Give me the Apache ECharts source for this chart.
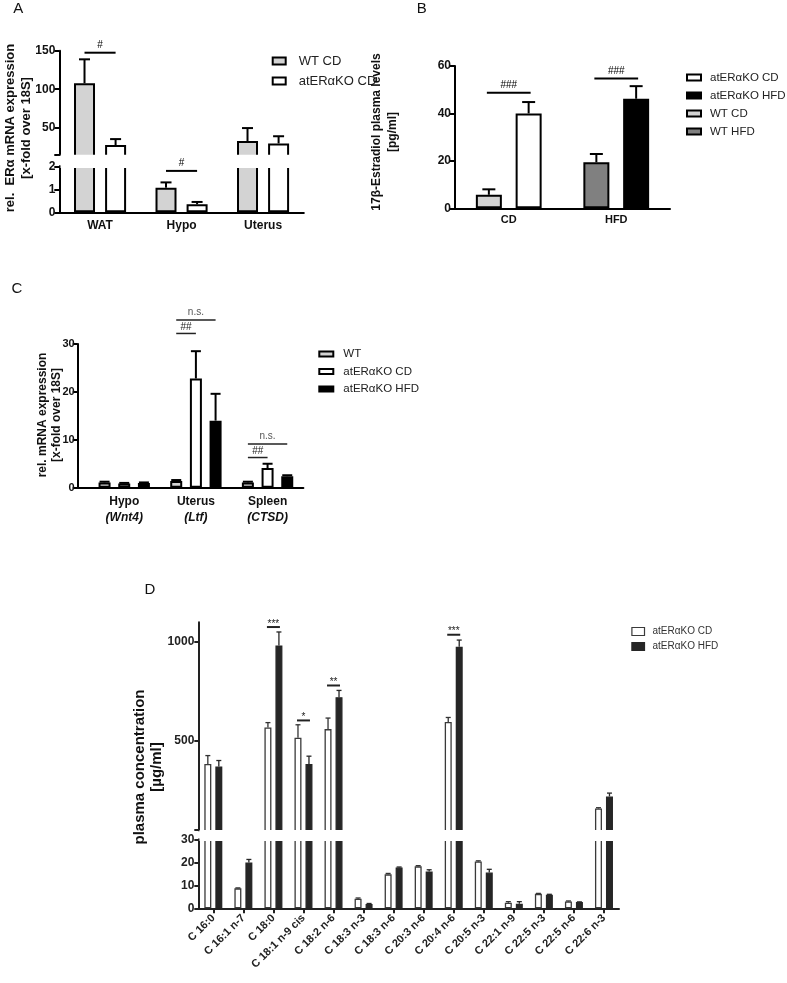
<!DOCTYPE html>
<html>
<head>
<meta charset="utf-8">
<title>Figure</title>
<script src="https://cdn.jsdelivr.net/npm/echarts@6.0.0/dist/echarts.min.js"></script>
<style>
html,body{margin:0;padding:0;background:#ffffff;}
#chart{width:787px;height:983px;}
</style>
</head>
<body>
<div id="chart"></div>
<script>
// ---------------- Panel A ----------------
const aCategories = ['WAT', 'Hypo', 'Uterus'];
const aWT = [107.7, 1.07, 32.7];
const aWTSem = [31.1, 0.23, 16.9];
const aKO = [27.5, 0.35, 29.7];
const aKOSem = [7.8, 0.1, 9.3];
const aUpperLabels = [50, 100, 150];
const aSig = [
  {part: 'upper', cat: 0, from: 0, to: 1, y: 147.4, text: '#'},
  {part: 'lower', cat: 1, from: 0, to: 1, y: 1.8, text: '#'}
];
// ---------------- Panel B ----------------
const bCategories = ['CD', 'HFD'];
const bWT = [5.7, 19.4];
const bWTSem = [2.3, 3.5];
const bKO = [40.0, 46.2];
const bKOSem = [4.8, 5.3];
const bSig = [
  {cat: 0, from: 0, to: 1, y: 48.7, text: '###'},
  {cat: 1, from: 0, to: 1, y: 54.7, text: '###'}
];
// ---------------- Panel C ----------------
const cCategories = ['Hypo', 'Uterus', 'Spleen'];
const cGenes = ['Wnt4', 'Ltf', 'CTSD'];
const cWT = [1.1, 1.4, 1.1];
const cWTSem = [0.15, 0.2, 0.15];
const cKOCD = [0.9, 22.8, 4.1];
const cKOCDSem = [0.1, 5.7, 0.9];
const cKOHFD = [1.0, 14.0, 2.4];
const cKOHFDSem = [0.1, 5.6, 0.2];
const cSig = [
  {cat: 1, from: 0, to: 2, y: 35.0, text: 'n.s.'},
  {cat: 1, from: 0, to: 1, y: 32.2, text: '##'},
  {cat: 2, from: 0, to: 2, y: 9.1, text: 'n.s.'},
  {cat: 2, from: 0, to: 1, y: 6.3, text: '##'}
];
// ---------------- Panel D ----------------
const dCategories = ['C 16:0', 'C 16:1 n-7', 'C 18:0', 'C 18:1 n-9 cis', 'C 18:2 n-6', 'C 18:3 n-3', 'C 18:3 n-6',
  'C 20:3 n-6', 'C 20:4 n-6', 'C 20:5 n-3', 'C 22:1 n-9', 'C 22:5 n-3', 'C 22:5 n-6', 'C 22:6 n-3'];
const dCD = [382, 8.7, 567, 515, 559, 4.2, 14.8, 18.3, 595, 20.4, 2.4, 6.3, 3.0, 157];
const dCDSem = [43, 0.2, 25, 66, 56, 0.3, 0.4, 0.3, 23, 0.3, 0.5, 0.2, 0.2, 4];
const dHFD = [370, 20.0, 983, 382, 721, 1.9, 17.8, 16.0, 976, 15.6, 2.0, 5.9, 2.7, 218];
const dHFDSem = [30, 1.3, 68, 40, 34, 0.2, 0.2, 0.8, 34, 1.4, 0.9, 0.2, 0.1, 17];
const dUpperLabels = [500, 1000];
const dSig = [
  {part: 'upper', cat: 2, from: 0, to: 1, y: 1076, text: '***'},
  {part: 'upper', cat: 3, from: 0, to: 1, y: 603, text: '*'},
  {part: 'upper', cat: 4, from: 0, to: 1, y: 780, text: '**'},
  {part: 'upper', cat: 8, from: 0, to: 1, y: 1037, text: '***'}
];

// ---------------- Layout / style ----------------
const FONT = '"Liberation Sans", Arial, Helvetica, sans-serif';
const LG = '#d3d3d3';
const L = {
  A: {left: 59.3, width: 244.5, upTop: 50.7, upH: 115.6, lowTop: 166.3, lowH: 46, upVisMin: 15, lowMax: 2, upMax: 150,
      bw: 21, gap: 0.48, cap: 11, lw: 2},
  B: {left: 455, width: 215, top: 66, h: 142.3, bw: 26, gap: 0.53, cap: 13, lw: 2},
  C: {frameLeft: 77.7, left: 88.4, width: 215, top: 344, h: 143.7, bw: 12, gap: 0.64, cap: 10, lw: 2},
  D: {left: 198.3, width: 420.7, upTop: 622.3, upH: 217.2, lowTop: 839.5, lowH: 68.8, upVisMin: 48, lowMax: 30, upMax: 1100,
      bw: 7, gap: 0.57, cap: 5, lw: 1.3}
};

function merge(a, b) {
  const o = Object.assign({}, a);
  for (const k in b) {
    if (b[k] && typeof b[k] === 'object' && !Array.isArray(b[k]) && a && a[k] && typeof a[k] === 'object' && !Array.isArray(a[k])) {
      o[k] = merge(a[k], b[k]);
    } else o[k] = b[k];
  }
  return o;
}
function offsets(n, w, g) {
  const tot = n * w + (n - 1) * w * g;
  const r = [];
  for (let i = 0; i < n; i++) r.push(-tot / 2 + i * w * (1 + g) + w / 2);
  return r;
}

const baseY = {
  type: 'value',
  axisLine: {show: true, lineStyle: {color: '#000', width: 2}},
  axisTick: {show: true, length: 5, lineStyle: {color: '#000', width: 2}},
  axisLabel: {color: '#111', fontFamily: FONT, fontWeight: 'bold', fontSize: 12, margin: 4, formatter: v => String(v)},
  splitLine: {show: false}
};
const baseX = {
  type: 'category',
  axisLine: {show: true, lineStyle: {color: '#000', width: 2}},
  axisTick: {show: false},
  axisLabel: {color: '#111', fontFamily: FONT, fontWeight: 'bold', fontSize: 12, margin: 7, interval: 0},
  splitLine: {show: false}
};

const grids = [
  {left: L.A.left, top: L.A.upTop, width: L.A.width, height: L.A.upH},     // 0 A upper
  {left: L.A.left, top: L.A.lowTop, width: L.A.width, height: L.A.lowH},   // 1 A lower
  {left: L.B.left, top: L.B.top, width: L.B.width, height: L.B.h},         // 2 B
  {left: L.C.frameLeft, top: L.C.top, width: L.C.left + L.C.width - L.C.frameLeft, height: L.C.h}, // 3 C frame
  {left: L.C.left, top: L.C.top, width: L.C.width, height: L.C.h},         // 4 C bars
  {left: L.D.left, top: L.D.upTop, width: L.D.width, height: L.D.upH},     // 5 D upper
  {left: L.D.left, top: L.D.lowTop, width: L.D.width, height: L.D.lowH}    // 6 D lower
].map(g => Object.assign({containLabel: false, outerBoundsMode: 'none'}, g));

const xAxes = [
  merge(baseX, {gridIndex: 0, data: aCategories, show: false}),
  merge(baseX, {gridIndex: 1, data: aCategories}),
  merge(baseX, {gridIndex: 2, data: bCategories, axisLabel: {fontSize: 11, margin: 6}}),
  merge(baseX, {gridIndex: 3, data: cCategories, axisLabel: {show: false}}),
  merge(baseX, {gridIndex: 4, data: cCategories, axisLine: {show: false},
    axisLabel: {margin: 6, formatter: (v, i) => '{n|' + v + '}\n{g|(' + cGenes[i] + ')}',
      rich: {n: {fontFamily: FONT, fontWeight: 'bold', fontSize: 12, color: '#111', lineHeight: 16},
             g: {fontFamily: FONT, fontStyle: 'italic', fontSize: 12, color: '#111', lineHeight: 16}}}}),
  merge(baseX, {gridIndex: 5, data: dCategories, show: false}),
  merge(baseX, {gridIndex: 6, data: dCategories,
    axisLine: {lineStyle: {color: '#222', width: 2}},
    axisTick: {show: true, alignWithLabel: true, length: 5, lineStyle: {color: '#222', width: 2}},
    axisLabel: {rotate: 45, fontSize: 11, margin: 8, color: '#222'}})
];

const yAxes = [
  merge(baseY, {gridIndex: 0, min: 0, max: L.A.upMax, interval: 50,
    axisTick: {customValues: [L.A.upVisMin].concat(aUpperLabels)}, axisLabel: {customValues: aUpperLabels}}),
  merge(baseY, {gridIndex: 1, min: 0, max: L.A.lowMax, interval: 1}),
  merge(baseY, {gridIndex: 2, min: 0, max: 60, interval: 20}),
  merge(baseY, {gridIndex: 3, min: 0, max: 30, interval: 10, show: false}),
  merge(baseY, {gridIndex: 4, min: 0, max: 30, interval: 10, offset: L.C.left - L.C.frameLeft, axisLabel: {fontSize: 11, margin: 3}}),
  merge(baseY, {gridIndex: 5, min: 0, max: L.D.upMax, interval: 500,
    axisLine: {lineStyle: {color: '#222'}}, axisTick: {length: 4, customValues: [L.D.upVisMin].concat(dUpperLabels), lineStyle: {color: '#222'}},
    axisLabel: {customValues: dUpperLabels, color: '#222'}}),
  merge(baseY, {gridIndex: 6, min: 0, max: L.D.lowMax, interval: 10,
    axisLine: {lineStyle: {color: '#222'}}, axisTick: {length: 4, lineStyle: {color: '#222'}}, axisLabel: {color: '#222'}})
];

function bar(name, axis, data, fill, border, bw, gap, lw, extra) {
  return Object.assign({
    type: 'bar', name: name, xAxisIndex: axis, yAxisIndex: axis, data: data,
    barWidth: bw, barGap: (gap * 100) + '%', clip: true, silent: true,
    itemStyle: {color: fill, borderColor: border, borderWidth: lw}
  }, extra || {});
}
function err(axis, means, sems, off, opt) {
  return {
    type: 'custom', name: '_err', xAxisIndex: axis, yAxisIndex: axis, z: 5, silent: true,
    data: means.map((m, i) => [i, m, sems[i]]),
    renderItem: function (params, api) {
      const m = api.value(1), s = api.value(2);
      if (opt.visMin != null && m < opt.visMin) return;
      if (opt.visMax != null && m > opt.visMax) return;
      const p0 = api.coord([api.value(0), m]);
      const p1 = api.coord([api.value(0), m + s]);
      const x = p0[0] + off;
      return {type: 'group', children: [
        {type: 'line', shape: {x1: x, y1: p0[1], x2: x, y2: p1[1]}, style: {stroke: opt.color, lineWidth: opt.lw}},
        {type: 'line', shape: {x1: x - opt.cap / 2, y1: p1[1], x2: x + opt.cap / 2, y2: p1[1]}, style: {stroke: opt.color, lineWidth: opt.lw}}
      ]};
    }
  };
}

const series = [];
// A
const aOff = offsets(2, L.A.bw, L.A.gap);
[[0, {visMin: L.A.upVisMin}], [1, {visMax: L.A.lowMax}]].forEach(([ax, lim]) => {
  series.push(bar('WT CD', ax, aWT, LG, '#000', L.A.bw, L.A.gap, 2));
  series.push(bar('atERαKO CD', ax, aKO, '#fff', '#000', L.A.bw, L.A.gap, 2));
  series.push(err(ax, aWT, aWTSem, aOff[0], Object.assign({color: '#000', lw: 2, cap: L.A.cap}, lim)));
  series.push(err(ax, aKO, aKOSem, aOff[1], Object.assign({color: '#000', lw: 2, cap: L.A.cap}, lim)));
});
// B (stacks keep two bar slots per diet)
const bOff = offsets(2, L.B.bw, L.B.gap);
const only = (arr, k) => arr.map((v, i) => (i === k ? v : '-'));
series.push(bar('WT CD', 2, only(bWT, 0), LG, '#000', L.B.bw, L.B.gap, 2, {stack: 'wt'}));
series.push(bar('WT HFD', 2, only(bWT, 1), '#808080', '#000', L.B.bw, L.B.gap, 2, {stack: 'wt'}));
series.push(bar('atERαKO CD', 2, only(bKO, 0), '#fff', '#000', L.B.bw, L.B.gap, 2, {stack: 'ko'}));
series.push(bar('atERαKO HFD', 2, only(bKO, 1), '#000', '#000', L.B.bw, L.B.gap, 2, {stack: 'ko'}));
series.push(err(2, bWT, bWTSem, bOff[0], {color: '#000', lw: 2, cap: L.B.cap}));
series.push(err(2, bKO, bKOSem, bOff[1], {color: '#000', lw: 2, cap: L.B.cap}));
// C
const cOff = offsets(3, L.C.bw, L.C.gap);
series.push(bar('WT', 4, cWT, LG, '#000', L.C.bw, L.C.gap, 2));
series.push(bar('atERαKO CD', 4, cKOCD, '#fff', '#000', L.C.bw, L.C.gap, 2));
series.push(bar('atERαKO HFD', 4, cKOHFD, '#000', '#000', L.C.bw, L.C.gap, 2));
series.push(err(4, cWT, cWTSem, cOff[0], {color: '#000', lw: 2, cap: L.C.cap}));
series.push(err(4, cKOCD, cKOCDSem, cOff[1], {color: '#000', lw: 2, cap: L.C.cap}));
series.push(err(4, cKOHFD, cKOHFDSem, cOff[2], {color: '#000', lw: 2, cap: L.C.cap}));
// D
const dOff = offsets(2, L.D.bw, L.D.gap);
[[5, {visMin: L.D.upVisMin}], [6, {visMax: L.D.lowMax}]].forEach(([ax, lim]) => {
  series.push(bar('atERαKO CD', ax, dCD, '#fff', '#3a3a3a', L.D.bw, L.D.gap, 1.3));
  series.push(bar('atERαKO HFD', ax, dHFD, '#262626', '#262626', L.D.bw, L.D.gap, 1.3));
  series.push(err(ax, dCD, dCDSem, dOff[0], Object.assign({color: '#333', lw: 1.3, cap: L.D.cap}, lim)));
  series.push(err(ax, dHFD, dHFDSem, dOff[1], Object.assign({color: '#262626', lw: 1.3, cap: L.D.cap}, lim)));
});

function legend(left, top, data, o) {
  return merge({
    orient: 'vertical', left: left, top: top, padding: 0, selectedMode: false, icon: 'rect',
    itemWidth: 13, itemHeight: 7, itemGap: 7, data: data,
    textStyle: {fontFamily: FONT, fontSize: 13, color: '#222', padding: [0, 0, 0, 6]}
  }, o || {});
}
const legends = [
  legend(271.7, 54.5, ['WT CD', 'atERαKO CD'], {itemGap: 7, textStyle: {padding: [0, 0, 0, 8]}}),
  legend(686, 71.5, ['atERαKO CD', 'atERαKO HFD', 'WT CD', 'WT HFD'], {itemWidth: 14, itemHeight: 6, itemGap: 6, textStyle: {fontSize: 11.5, padding: [0, 0, 0, 4]}}),
  legend(318.3, 348, ['WT', 'atERαKO CD', 'atERαKO HFD'], {itemWidth: 14, itemHeight: 5, itemGap: 5.5, textStyle: {fontSize: 11.5, padding: [0, 0, 0, 5]}}),
  legend(631.3, 626.5, [
      {name: 'atERαKO CD', itemStyle: {color: '#fff', borderColor: '#3a3a3a', borderWidth: 1.2}},
      {name: 'atERαKO HFD', itemStyle: {color: '#262626', borderColor: '#262626', borderWidth: 1.2}}],
    {itemWidth: 12.6, itemHeight: 8, itemGap: 5, textStyle: {fontSize: 10, color: '#333', padding: [0, 0, 0, 3]}})
];

const chart = echarts.init(document.getElementById('chart'), null, {renderer: 'canvas', width: 787, height: 983});
chart.setOption({
  backgroundColor: '#ffffff',
  animation: false,
  textStyle: {fontFamily: FONT},
  grid: grids, xAxis: xAxes, yAxis: yAxes, legend: legends, series: series
});

// ---------------- annotations (positions from the chart's own scales) ----------------
const G = [];
function text(str, x, y, size, o) {
  o = o || {};
  return {type: 'text', x: x, y: y, rotation: o.rot || 0, z: o.z || 60, silent: true,
    style: {text: str, fontFamily: FONT, fontSize: size, fontWeight: o.weight || 'normal', fontStyle: o.style || 'normal',
      fill: o.color || '#111', align: 'center', verticalAlign: 'middle', textAlign: 'center', textVerticalAlign: 'middle',
      lineHeight: o.lh || size + 3}};
}
function line(x1, y1, x2, y2, color, lw) {
  return {type: 'line', z: 110, silent: true, shape: {x1: x1, y1: y1, x2: x2, y2: y2}, style: {stroke: color, lineWidth: lw}};
}
function sig(gridIndex, s, n, bw, gap, ext, o) {
  const offs = offsets(n, bw, gap);
  const c = chart.convertToPixel({gridIndex: gridIndex}, [s.cat, s.y]);
  const x1 = c[0] + offs[s.from] - ext, x2 = c[0] + offs[s.to] + ext;
  G.push(line(x1, c[1], x2, c[1], o.color, o.lw));
  G.push(text(s.text, (x1 + x2) / 2, c[1] - o.dy, o.size, {color: o.tcolor || o.color, z: 110}));
}
aSig.forEach(s => sig(s.part === 'upper' ? 0 : 1, s, 2, L.A.bw, L.A.gap, 0, {color: '#000', lw: 2, dy: 7.5, size: 10}));
bSig.forEach(s => sig(2, s, 2, L.B.bw, L.B.gap, 2, {color: '#000', lw: 2, dy: 7.5, size: 10}));
cSig.forEach(s => sig(4, s, 3, L.C.bw, L.C.gap, 0, {color: '#222', lw: 1.5, dy: s.text === 'n.s.' ? 8 : 6, size: 10, tcolor: s.text === 'n.s.' ? '#555' : '#222'}));
dSig.forEach(s => sig(5, s, 2, L.D.bw, L.D.gap, 1, {color: '#222', lw: 2, dy: 3, size: 10}));

// axis breaks: hide the stretch between the two value segments
function breakCover(lay) {
  const yVis = lay.upTop + lay.upH * (1 - lay.upVisMin / lay.upMax);
  G.push({type: 'rect', z: 100, silent: true, shape: {x: lay.left - 2, y: yVis + 1.2, width: 4, height: lay.lowTop - yVis - 2.2}, style: {fill: '#fff'}});
  G.push({type: 'rect', z: 100, silent: true, shape: {x: lay.left + 1.2, y: yVis, width: lay.width + 2, height: lay.lowTop - yVis + 1.6}, style: {fill: '#fff'}});
}
breakCover(L.A);
breakCover(L.D);

// panel letters and axis titles
G.push(text('A', 18.3, 9, 15));
G.push(text('B', 421.7, 9, 15));
G.push(text('C', 17, 289, 15));
G.push(text('D', 150, 590, 15));
G.push(text('rel.  ERα mRNA expression\n[x-fold over 18S]', 18, 128, 13, {rot: Math.PI / 2, weight: 'bold', lh: 16}));
G.push(text('17β-Estradiol plasma levels\n[pg/ml]', 385, 132, 12, {rot: Math.PI / 2, weight: 'bold', lh: 16}));
G.push(text('rel. mRNA expression\n[x-fold over 18S]', 49.5, 415, 12, {rot: Math.PI / 2, weight: 'bold', lh: 13.5}));
G.push(text('plasma concentration\n[µg/ml]', 148, 767, 15, {rot: Math.PI / 2, weight: 'bold', lh: 17}));

chart.setOption({graphic: G});
</script>
</body>
</html>
